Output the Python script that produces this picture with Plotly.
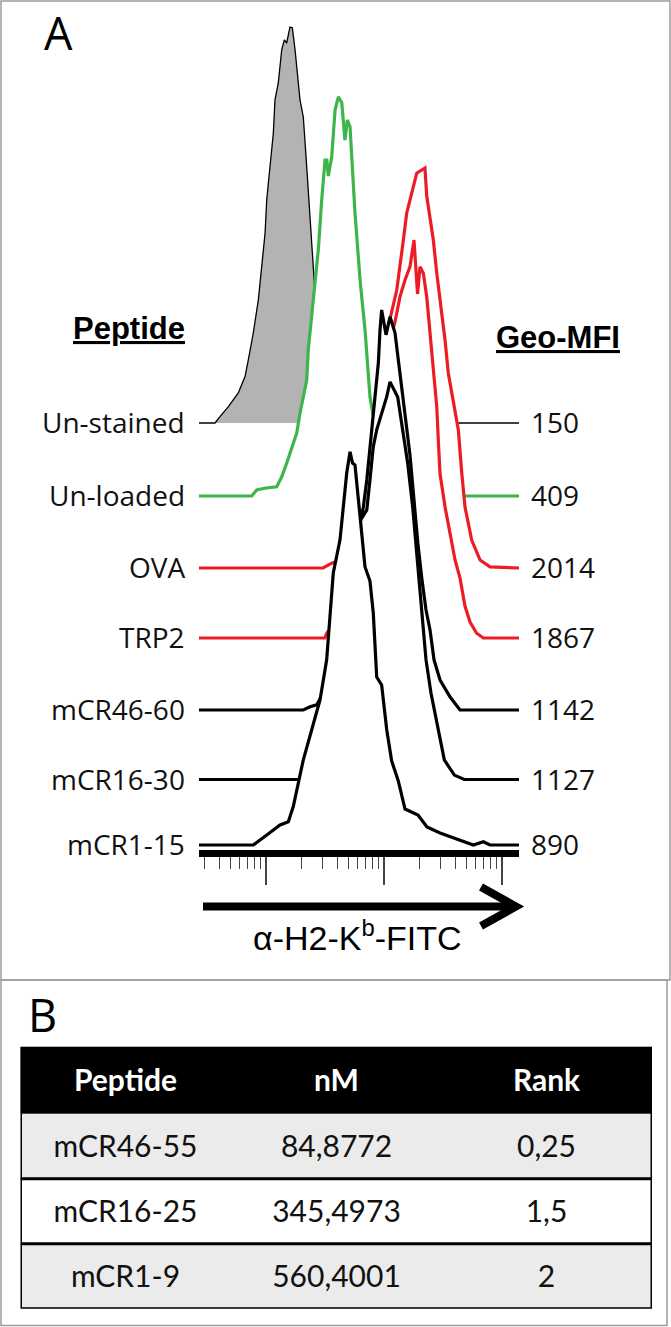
import plotly.graph_objects as go

W, H = 671, 1327

# ---------------- data ----------------
peptides = ["Un-stained", "Un-loaded", "OVA", "TRP2", "mCR46-60", "mCR16-30", "mCR1-15"]
geo_mfi = ["150", "409", "2014", "1867", "1142", "1127", "890"]

# histogram outlines: log10 fluorescence and % of mode
unstained_log = [1.432, 1.568, 1.610, 1.681, 1.765, 1.822, 1.850, 1.892, 1.935, 1.964, 1.992, 2.006, 2.034, 2.062, 2.076, 2.104,
                 2.133, 2.155, 2.175, 2.203, 2.223, 2.246, 2.288, 2.316, 2.345, 2.373, 2.401, 2.415, 2.449, 2.483, 2.517, 2.559, 2.610, 4.144]
unstained_pct = [0, 0, 1.6, 4.1, 7.5, 11.6, 15.8, 22.5, 30.8, 39, 47.5, 55.8, 64, 72.5, 80.8, 85,
                 93.3, 95.8, 95, 99, 98.8, 93.3, 80.8, 76.5, 64, 51.5, 37.5, 32.5, 22, 12, 5, 1, 0, 0]

unloaded_log = [1.432, 1.879, 1.921, 2.0, 2.091, 2.133, 2.175, 2.218, 2.260, 2.288, 2.316, 2.345, 2.358, 2.401, 2.443, 2.472,
                2.500, 2.515, 2.528, 2.557, 2.585, 2.613, 2.642, 2.669, 2.689, 2.712, 2.726, 2.754, 2.797, 2.839, 2.881, 2.904,
                2.966, 3.051, 3.178, 3.347, 3.517, 3.661, 4.144]
unloaded_pct = [0, 0, 1.5, 2.0, 2.3, 4.8, 8.2, 12.3, 15.7, 20.7, 24.8, 29, 36.5, 49, 61.5, 74,
                84, 84, 80, 84.8, 96.5, 99.8, 98.3, 89, 94, 92.3, 85.8, 70.8, 54, 41.5, 24.8, 20.8,
                14, 9, 5, 2, 0.8, 0, 0]

ova_log = [1.432, 2.483, 2.557, 2.599, 2.669, 2.754, 2.814, 2.881, 2.941, 2.983, 3.017, 3.051, 3.108, 3.164, 3.192, 3.235,
           3.277, 3.320, 3.347, 3.362, 3.390, 3.418, 3.447, 3.489, 3.517, 3.545, 3.587, 3.630, 3.659, 3.686, 3.743, 3.814,
           3.898, 4.144]
ova_pct = [0, 0, 1.2, 1.6, 4, 8, 12, 22, 40, 52, 58, 62, 69.5, 82, 88.7, 93.7,
           98.7, 99.5, 100, 93, 88, 82, 73.7, 64.5, 57, 48.7, 42, 34.5, 23.7, 15.3, 7, 2,
           0.3, 0]

trp2_log = [1.432, 2.500, 2.514, 2.585, 2.669, 2.754, 2.839, 2.924, 3.008, 3.065, 3.093, 3.136, 3.178, 3.220, 3.254, 3.284,
            3.305, 3.333, 3.362, 3.390, 3.418, 3.447, 3.460, 3.475, 3.517, 3.559, 3.602, 3.644, 3.686, 3.729, 3.785, 3.842, 4.144]
trp2_pct = [0, 0, 1.2, 4, 9, 18, 30, 48, 63, 76, 79, 85.4, 89.5, 92.8, 99.5, 86,
            92.8, 91.2, 85.3, 76, 66, 57.8, 49.5, 41, 32.8, 26.2, 19.5, 15, 8, 4, 1.2, 0, 0]

mcr46_log = [1.432, 2.316, 2.373, 2.430, 2.500, 2.585, 2.669, 2.729, 2.780, 2.825, 2.854, 2.881, 2.909, 2.924, 2.952, 2.966,
             2.980, 3.017, 3.051, 3.093, 3.136, 3.178, 3.220, 3.254, 3.288, 3.322, 3.356, 3.390, 3.424, 3.475, 3.559, 3.644, 4.144]
mcr46_pct = [0, 0, 0.8, 1.3, 5, 12.5, 25, 35, 42.5, 50.8, 57.5, 65.8, 74.3, 78.3, 86.8, 95,
             100, 93.8, 98.3, 94.3, 84.5, 73.8, 63.8, 52.5, 41.3, 32.5, 25, 20, 12.5, 7.5, 3.3, 0, 0]

mcr16_log = [1.432, 2.288, 2.373, 2.458, 2.542, 2.627, 2.695, 2.754, 2.805, 2.854, 2.881, 2.909, 2.938, 2.980, 3.023, 3.051,
             3.116, 3.158, 3.201, 3.243, 3.271, 3.299, 3.322, 3.356, 3.398, 3.455, 3.511, 3.596, 3.680, 4.144]
mcr16_pct = [0, 0, 2.4, 8, 20, 36, 50, 60, 65, 67.4, 74.9, 83.2, 87.4, 91.6, 95.7, 99.4,
             95.6, 87.4, 79, 68.1, 58.1, 49.9, 41.6, 29.9, 21.6, 13.1, 4.9, 1.1, 0, 0]

mcr1_log = [1.432, 1.892, 2.006, 2.119, 2.189, 2.231, 2.316, 2.401, 2.458, 2.514, 2.542, 2.570, 2.627, 2.655, 2.684, 2.712,
            2.733, 2.754, 2.797, 2.839, 2.881, 2.909, 2.938, 2.980, 3.023, 3.065, 3.121, 3.178, 3.288, 3.364, 3.475, 3.616,
            3.757, 3.842, 3.898, 4.144]
mcr1_pct = [0, 0, 2.5, 5, 5.8, 9.6, 21.3, 30.4, 36.3, 46.3, 58, 68, 76.3, 84.6, 93, 98.3,
            95.5, 95, 83, 69.5, 66, 58, 42, 40, 28.8, 21, 16, 9, 7.5, 4.5, 3, 1.5,
            0, 0.8, 0, 0]

hist_logs = [unstained_log, unloaded_log, ova_log, trp2_log, mcr46_log, mcr16_log, mcr1_log]
hist_pcts = [unstained_pct, unloaded_pct, ova_pct, trp2_pct, mcr46_pct, mcr16_pct, mcr1_pct]

# table (panel B)
tbl_header = ["Peptide", "nM", "Rank"]
tbl_peptide = ["mCR46-55", "mCR16-25", "mCR1-9"]
tbl_nm = ["84,8772", "345,4973", "560,4001"]
tbl_rank = ["0,25", "1,5", "2"]

# ---------------- style / layout ----------------
offsets = [105.5, 87.25, 69.25, 51.75, 33.75, 16.375, 0.0]   # vertical stacking (in % units)
line_colors = ["black", "#3db54a", "#ec1c24", "#ec1c24", "black", "black", "black"]
fill_colors = ["#b3b3b3", "white", "white", "white", "white", "white", "white"]
line_widths = [1.3, 3.2, 3.2, 3.2, 3.2, 3.2, 3.2]

PX_PER_UNIT = 4.0
Y_BASE_PX = 845          # pixel of bottom baseline
PLOT_BOTTOM_PX = 850
PLOT_TOP_PX = 10
X_LEFT_PX, X_RIGHT_PX = 199, 519


def px_x(p):
    return p / W


def px_y(p):
    return 1 - p / H


fig = go.Figure()
for lg, pc, off, lc, fc, lw in zip(hist_logs, hist_pcts, offsets, line_colors, fill_colors, line_widths):
    fig.add_trace(go.Scatter(
        x=[10 ** v for v in lg],
        y=[off + v for v in pc],
        mode="lines", fill="toself", fillcolor=fc,
        line=dict(color=lc, width=lw), hoverinfo="skip", showlegend=False,
    ))

y_min = -(PLOT_BOTTOM_PX - Y_BASE_PX) / PX_PER_UNIT
y_max = (Y_BASE_PX - PLOT_TOP_PX) / PX_PER_UNIT

minor_vals = [k * 10 ** d for d in range(1, 4) for k in range(2, 10) if 10 ** 1.432 <= k * 10 ** d <= 10 ** 4.144]

# ---------------- panel B table as heatmap cells ----------------
T_LEFT, T_RIGHT, T_TOP = 20.5, 652, 1046.7
HEAD_H, ROW_H = 67, 65
n_rows = len(tbl_peptide)
T_BOTTOM = T_TOP + HEAD_H + ROW_H * n_rows
row_edges = [ROW_H * k for k in range(n_rows + 1)]            # bottom -> top
body_rows = [list(r) for r in zip(tbl_peptide, tbl_nm, tbl_rank)][::-1]
body_shade = [[1 if (n_rows - 1 - i) % 2 == 0 else 0] * 3 for i in range(n_rows)]
cell_scale = [[0, "white"], [0.5, "#ebebeb"], [1, "black"]]

fig.add_trace(go.Heatmap(
    x=[0, 1, 2], y=row_edges, z=body_shade, text=body_rows, texttemplate="%{text}",
    textfont=dict(family="Lato", size=30, color="#111111"),
    colorscale=cell_scale, zmin=0, zmax=2, showscale=False, hoverinfo="skip",
    xaxis="x2", yaxis="y2",
))
fig.add_trace(go.Heatmap(
    x=[0, 1, 2], y=[row_edges[-1], row_edges[-1] + HEAD_H], z=[[2, 2, 2]],
    text=[["<b>%s</b>" % h for h in tbl_header]], texttemplate="%{text}",
    textfont=dict(family="Lato", size=30, color="white"),
    colorscale=cell_scale, zmin=0, zmax=2, showscale=False, hoverinfo="skip",
    xaxis="x2", yaxis="y2",
))

fig.update_layout(
    width=W, height=H, margin=dict(l=0, r=0, t=0, b=0),
    paper_bgcolor="white", plot_bgcolor="rgba(0,0,0,0)",
    xaxis=dict(type="log", range=[1.432, 4.144], domain=[px_x(X_LEFT_PX), px_x(X_RIGHT_PX)],
               showline=True, linewidth=7, linecolor="black", showgrid=False, zeroline=False,
               ticks="outside", tickmode="array", tickvals=[100, 1000, 10000], ticklen=28, tickwidth=1.5,
               tickcolor="#444444", showticklabels=False, fixedrange=True,
               minor=dict(tickmode="array", tickvals=minor_vals, ticks="outside", ticklen=12, tickwidth=1.3,
                          tickcolor="#444444", showgrid=False)),
    yaxis=dict(range=[y_min, y_max], domain=[px_y(PLOT_BOTTOM_PX), px_y(PLOT_TOP_PX)], visible=False,
               fixedrange=True),
    xaxis2=dict(range=[-0.5, 2.5], domain=[px_x(T_LEFT), px_x(T_RIGHT)], visible=False, anchor="y2",
                fixedrange=True),
    yaxis2=dict(range=[0, row_edges[-1] + HEAD_H], domain=[px_y(T_BOTTOM), px_y(T_TOP)], visible=False,
                anchor="x2", fixedrange=True),
)

# row labels and Geo-MFI values
baseline_px = [Y_BASE_PX - o * PX_PER_UNIT for o in offsets]
label_font = dict(family="Open Sans", size=28, color="#111111")
for name, mfi, bp in zip(peptides, geo_mfi, baseline_px):
    fig.add_annotation(x=px_x(187), y=px_y(bp - 1), xref="paper", yref="paper", text=name, showarrow=False,
                       xanchor="right", yanchor="middle", font=label_font)
    fig.add_annotation(x=px_x(529), y=px_y(bp - 1), xref="paper", yref="paper", text=mfi, showarrow=False,
                       xanchor="left", yanchor="middle", font=label_font)

head_font = dict(family="Liberation Sans", size=31, color="black")
fig.add_annotation(x=px_x(128.5), y=px_y(328), xref="paper", yref="paper", text="<b><u>Peptide</u></b>",
                   showarrow=False, xanchor="center", yanchor="middle", font=head_font)
fig.add_annotation(x=px_x(494), y=px_y(338), xref="paper", yref="paper", text="<b><u>Geo-MFI</u></b>",
                   showarrow=False, xanchor="left", yanchor="middle", font=head_font)

# axis title
fig.add_annotation(x=px_x(357), y=px_y(935), xref="paper", yref="paper", text="α-H2-K<sup>b</sup>-FITC",
                   showarrow=False, xanchor="center", yanchor="middle",
                   font=dict(family="Liberation Sans", size=34, color="black"))

# panel letters
fig.add_annotation(x=px_x(58), y=px_y(33), xref="paper", yref="paper", text="A", showarrow=False,
                   xanchor="center", yanchor="middle", font=dict(family="Open Sans", size=45, color="black"))
fig.add_annotation(x=px_x(42), y=px_y(1015), xref="paper", yref="paper", text="B", showarrow=False,
                   xanchor="center", yanchor="middle", font=dict(family="Open Sans", size=45, color="black"))

shapes = []
# panel borders
border = dict(color="#9c9c9c", width=1.5)
shapes.append(dict(type="rect", xref="paper", yref="paper", x0=px_x(1), x1=px_x(670), y0=px_y(980), y1=px_y(1),
                   line=border))
shapes.append(dict(type="rect", xref="paper", yref="paper", x0=px_x(1), x1=px_x(667), y0=px_y(1325.5), y1=px_y(980),
                   line=border))
# arrow under axis
shapes.append(dict(type="line", xref="paper", yref="paper", x0=px_x(203), x1=px_x(512), y0=px_y(906.5), y1=px_y(906.5),
                   line=dict(color="black", width=8)))
shapes.append(dict(type="path", xref="paper", yref="paper",
                   path="M {} {} L {} {} L {} {}".format(px_x(481), px_y(887), px_x(516), px_y(906.5), px_x(481), px_y(926)),
                   line=dict(color="black", width=8)))
# table rules
for k in range(1, n_rows):
    shapes.append(dict(type="line", xref="x2", yref="y2", x0=-0.5, x1=2.5, y0=row_edges[k], y1=row_edges[k],
                       line=dict(color="black", width=3)))
shapes.append(dict(type="rect", xref="x2", yref="y2", x0=-0.5, x1=2.5, y0=0, y1=row_edges[-1] + HEAD_H,
                   line=dict(color="black", width=3)))

fig.update_layout(shapes=shapes)
fig.write_html("out.html", config={"displayModeBar": False},
               post_script="document.body.style.margin='0';document.body.style.overflow='hidden';")
